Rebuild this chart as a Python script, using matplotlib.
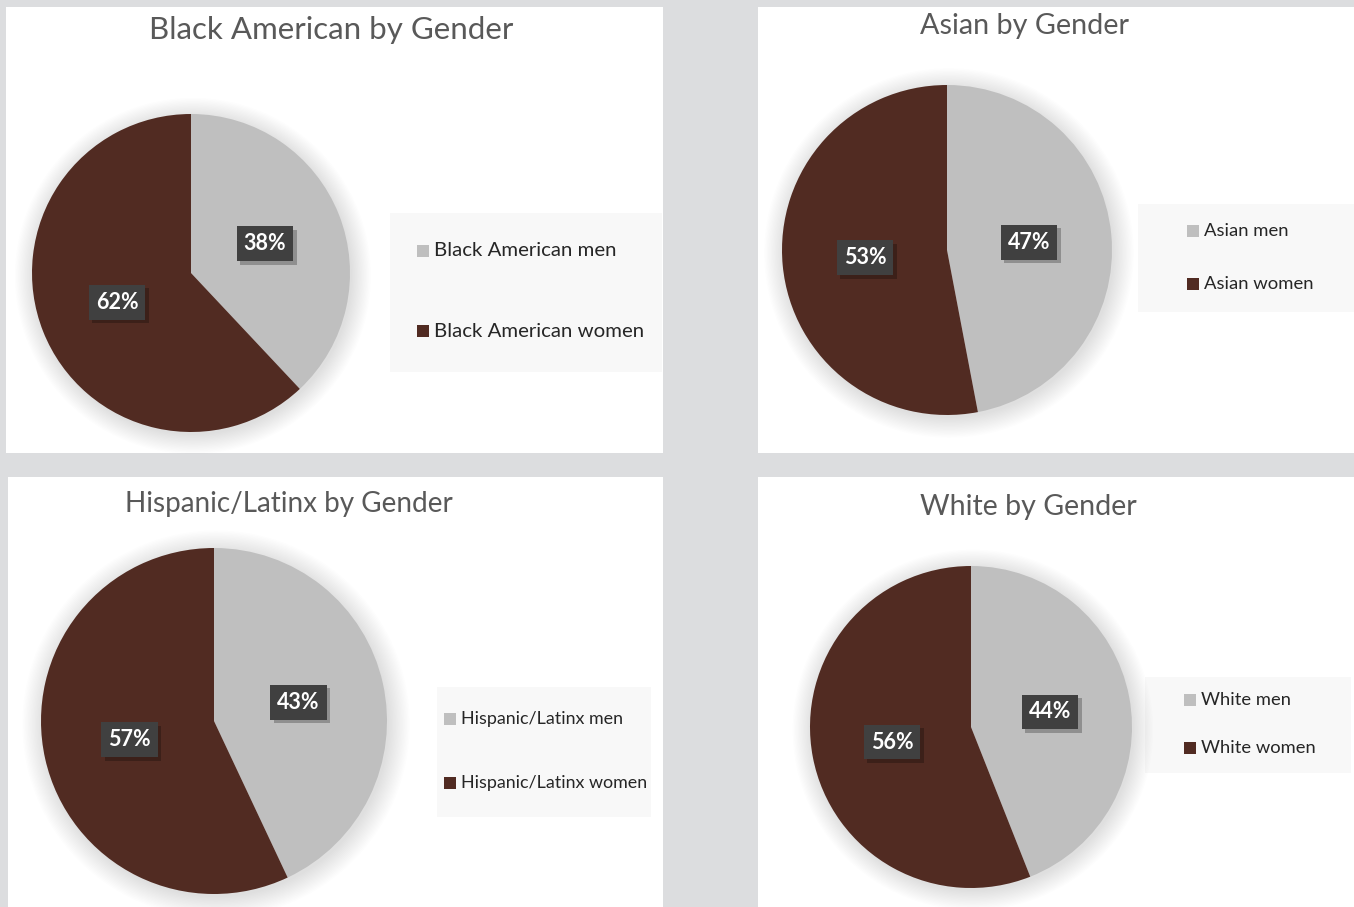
import matplotlib
matplotlib.use("Agg")
import matplotlib.pyplot as plt
from matplotlib.patches import Rectangle, Circle
import matplotlib.patheffects as pe

W, H = 1354, 907

# =========================================================
# DATA
# =========================================================

titles = ["Black American by Gender", "Asian by Gender",
          "Hispanic/Latinx by Gender", "White by Gender"]
groups = ["Black American", "Asian", "Hispanic/Latinx", "White"]
men_pct = [38, 47, 43, 44]
women_pct = [62, 53, 57, 56]

MEN_COLOR = "#bfbfbf"
WOMEN_COLOR = "#512b22"

# layout in pixels: panel box, pie centre/radius, title pos, legend box, legend spacing
panels = [(6, 7, 663, 453), (758, 7, 1354, 453), (8, 477, 663, 907), (758, 477, 1354, 907)]
pies = [(191, 273, 159), (947, 250, 165), (214, 721, 173), (971, 727, 161)]
title_pos = [(331, 30), (1025, 26), (289, 504), (1028, 507)]
title_size = [22.5, 20.7, 20.1, 20.6]
leg_boxes = [(390, 213, 662, 372), (1138, 204, 1354, 312), (437, 687, 651, 817), (1145, 677, 1351, 773)]
leg_first = [(417, 251), (1187, 231), (444, 719), (1184, 700)]
leg_gap = [80, 53, 64, 48]
leg_size = [14.7, 13.3, 12.9, 13.2]

plt.rcParams["font.family"] = ["Lato", "DejaVu Sans"]

fig = plt.figure(figsize=(W / 100, H / 100), dpi=100)
fig.patch.set_facecolor("#dcdddf")


def fbox(x0, y0, x1, y1):
    return [x0 / W, 1 - y1 / H, (x1 - x0) / W, (y1 - y0) / H]


for i in range(4):
    x0, y0, x1, y1 = panels[i]
    fig.add_artist(Rectangle((x0 / W, 1 - y1 / H), (x1 - x0) / W, (y1 - y0) / H,
                             transform=fig.transFigure, facecolor="white",
                             edgecolor="none", zorder=0))

    # legend background
    lx0, ly0, lx1, ly1 = leg_boxes[i]
    fig.add_artist(Rectangle((lx0 / W, 1 - ly1 / H), (lx1 - lx0) / W, (ly1 - ly0) / H,
                             transform=fig.transFigure, facecolor="#f8f8f8",
                             edgecolor="none", zorder=1))

    # pie
    cx, cy, r = pies[i]
    pad = 1.15
    ax = fig.add_axes(fbox(cx - r * pad, cy - r * pad, cx + r * pad, cy + r * pad))
    ax.set_zorder(2)
    # soft shadow
    for k in range(16):
        ax.add_patch(Circle((0.012, -0.018), 1.0 + 0.008 * k, facecolor="black",
                            edgecolor="none", alpha=0.009, zorder=0))
    wedges, _, autotexts = ax.pie(
        [men_pct[i], women_pct[i]], colors=[MEN_COLOR, WOMEN_COLOR],
        startangle=90, counterclock=False, radius=1,
        autopct=lambda p: f"{round(p):d}%", pctdistance=0.5,
        wedgeprops=dict(edgecolor="none"),
        textprops=dict(color="white", fontsize=15.5, fontweight="bold"))
    for w in wedges:
        w.set_zorder(2)
    for t in autotexts:
        t.set_zorder(3)
        t.set_bbox(dict(boxstyle="square,pad=0.32", facecolor="#404040", edgecolor="none"))
        t.get_bbox_patch().set_path_effects(
            [pe.SimplePatchShadow(offset=(2.5, -2.5), shadow_rgbFace="black", alpha=0.25),
             pe.Normal()])
    ax.set_xlim(-pad, pad)
    ax.set_ylim(-pad, pad)
    ax.set_aspect("equal")
    ax.axis("off")

    # title
    tx, ty = title_pos[i]
    fig.text(tx / W, 1 - ty / H, titles[i], ha="center", va="center",
             fontsize=title_size[i], color="#595959", zorder=3)

    # legend entries
    sx, sy = leg_first[i]
    for j, (lab, col) in enumerate([(groups[i] + " men", MEN_COLOR),
                                     (groups[i] + " women", WOMEN_COLOR)]):
        yy = sy + j * leg_gap[i]
        fig.add_artist(Rectangle((sx / W, 1 - (yy + 6) / H), 12 / W, 12 / H,
                                 transform=fig.transFigure, facecolor=col,
                                 edgecolor="none", zorder=3))
        fig.text((sx + 17) / W, 1 - yy / H, lab, ha="left", va="center",
                 fontsize=leg_size[i], color="#262626", zorder=3)

fig.savefig("out.png", dpi=100, facecolor=fig.get_facecolor())
